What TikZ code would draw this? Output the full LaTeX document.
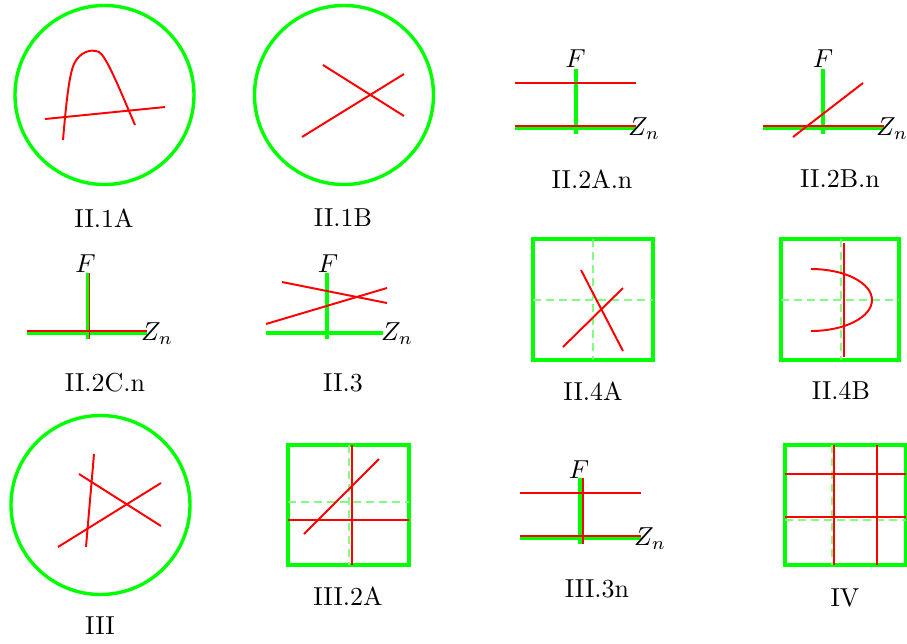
\documentclass[tikz,border=0pt]{standalone}
\begin{document}
\begin{tikzpicture}[x=0.385pt,y=-0.385pt,
  gline/.style={draw=green, line width=1.3pt},
  rline/.style={draw=red, line width=0.75pt},
  gdash/.style={draw=green!50, line width=0.6pt, dash pattern=on 3pt off 2pt},
  lab/.style={inner sep=0pt}]
\useasboundingbox (0,0) rectangle (907,643);

% II.1A
\draw[gline] (104.5,95) circle[radius=89.5];
\draw[rline] (63,140) .. controls (66,105) and (69,75) .. (74,64)
  .. controls (79,53) and (90,48) .. (99,52)
  .. controls (106,56) and (118,85) .. (135,125);
\draw[rline] (45,119) -- (165,107);
\node[lab] (l1) at (104,218) {II.1A};

% II.1B
\draw[gline] (344,95) circle[radius=89.5];
\draw[rline] (323,65) -- (404,116);
\draw[rline] (302,137) -- (404,74);
\node[lab] (l2) at (343,218) {II.1B};

% II.2A.n
\draw[gline] (576,69) -- (576,134);
\draw[gline] (515,128) -- (636,128);
\draw[rline] (515,126) -- (636,126);
\draw[rline] (515,83) -- (636,83);
\node[lab] (f1) at (575.5,59) {$F$};
\node[lab] (z1) at (644,129) {$Z_n$};
\node[lab] (l3) at (592,179) {II.2A.n};

% II.2B.n
\draw[gline] (823,69) -- (823,134);
\draw[gline] (763,128) -- (884,128);
\draw[rline] (763,126) -- (884,126);
\draw[rline] (793,137) -- (863,83);
\node[lab] (f2) at (823,59) {$F$};
\node[lab] (z2) at (892,129) {$Z_n$};
\node[lab] (l4) at (840,179) {II.2B.n};

% II.2C.n
\draw[gline] (88,273) -- (88,339);
\draw[gline] (27,333) -- (147,333);
\draw[rline] (89.5,273) -- (89.5,339);
\draw[rline] (27,331) -- (147,331);
\node[lab] (f3) at (85.5,263.5) {$F$};
\node[lab] (z3) at (157,334) {$Z_n$};
\node[lab] (l5) at (105,383) {II.2C.n};

% II.3
\draw[gline] (327,273) -- (327,339);
\draw[gline] (266,333) -- (383,333);
\draw[rline] (282,282) -- (387,303);
\draw[rline] (266,324) -- (387,288);
\node[lab] (f4) at (328,264) {$F$};
\node[lab] (z4) at (397,334) {$Z_n$};
\node[lab] (l6) at (343,383) {II.3};

% II.4A
\draw[gline] (533,239) rectangle (653,360);
\draw[gdash] (593,239) -- (593,360);
\draw[gdash] (533,300) -- (653,300);
\draw[rline] (581,270) -- (623,351);
\draw[rline] (563,347) -- (623,288);
\node[lab] (l7) at (593,391) {II.4A};

% II.4B
\draw[gline] (781,239) rectangle (899,360);
\draw[gdash] (841,239) -- (841,360);
\draw[gdash] (781,300) -- (899,300);
\draw[rline] (844,243) -- (844,357);
\draw[rline] (811,269) arc[start angle=90, end angle=-90, x radius=61, y radius=-31];
\node[lab] (l8) at (841,391) {II.4B};

% III
\draw[gline] (100.5,505) circle[radius=89.5];
\draw[rline] (94,454) -- (86,547);
\draw[rline] (79,474) -- (161,526);
\draw[rline] (58,547) -- (161,483);
\node[lab] (l9) at (100,626) {III};

% III.2A
\draw[gline] (288,445) rectangle (409,565);
\draw[gdash] (349,445) -- (349,565);
\draw[gdash] (288,502) -- (409,502);
\draw[rline] (352,445) -- (352,565);
\draw[rline] (288,520) -- (409,520);
\draw[rline] (304,534) -- (379,459);
\node[lab] (l10) at (348,596) {III.2A};

% III.3n
\draw[gline] (580,478) -- (580,544);
\draw[gline] (520,538) -- (641,538);
\draw[rline] (583,478) -- (583,544);
\draw[rline] (520,536) -- (641,536);
\draw[rline] (520,493) -- (641,493);
\node[lab] (f5) at (579,470) {$F$};
\node[lab] (z5) at (650,539) {$Z_n$};
\node[lab] (l11) at (597,589) {III.3n};

% IV
\draw[gline] (785,445) rectangle (906,565);
\draw[gdash] (832,445) -- (832,565);
\draw[gdash] (785,520) -- (906,520);
\draw[rline] (834,445) -- (834,565);
\draw[rline] (877,445) -- (877,565);
\draw[rline] (785,474) -- (906,474);
\draw[rline] (785,517) -- (906,517);
\node[lab] (l12) at (845,598) {IV};
\end{tikzpicture}
\end{document}
